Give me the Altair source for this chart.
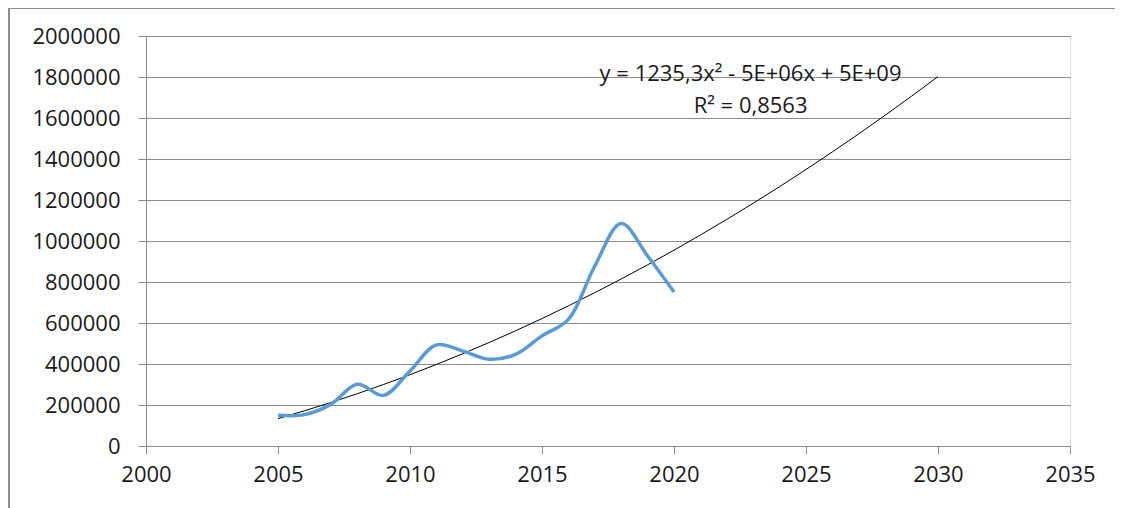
import altair as alt
import pandas as pd

years = [2005, 2006, 2007, 2008, 2009, 2010, 2011, 2012, 2013, 2014, 2015, 2016, 2017, 2018, 2019, 2020]
values = [150000, 153000, 203000, 301000, 247000, 366000, 493000, 463000, 423000, 447000, 537000, 618000, 878000, 1085000, 927000, 751000]
x_ticks = [2000, 2005, 2010, 2015, 2020, 2025, 2030, 2035]
y_ticks = [0, 200000, 400000, 600000, 800000, 1000000, 1200000, 1400000, 1600000, 1800000, 2000000]
eq_lines = ["y = 1235,3x² - 5E+06x + 5E+09", "R² = 0,8563"]
eq_x = [2022.9, 2022.9]
eq_y = [1813000, 1657000]

df = pd.DataFrame({"year": years, "value": values})
eq_df = pd.DataFrame({"text": eq_lines, "x": eq_x, "y": eq_y})

FONT = "Open Sans"
FS = 22

xscale = alt.Scale(domain=[2000, 2035], nice=False, zero=False)
yscale = alt.Scale(domain=[0, 2000000], nice=False)

xaxis = alt.Axis(values=x_ticks, format="d", title=None, grid=False,
                 domainColor="#8c8c8c", tickColor="#8c8c8c", tickSize=8,
                 labelFont=FONT, labelFontSize=FS, labelColor="#1a1a1a",
                 labelPadding=10, labelFlush=False)
yaxis = alt.Axis(values=y_ticks, format="d", title=None, grid=True,
                 gridColor="#8c8c8c", gridWidth=1,
                 domainColor="#8c8c8c", tickColor="#8c8c8c", tickSize=8,
                 labelFont=FONT, labelFontSize=FS, labelColor="#1a1a1a",
                 labelPadding=18)

base = alt.Chart(df)

line = base.mark_line(color="#5B9BD5", strokeWidth=3.5, interpolate="catmull-rom").encode(
    x=alt.X("year:Q", scale=xscale, axis=xaxis),
    y=alt.Y("value:Q", scale=yscale, axis=yaxis),
)

trend = base.transform_regression(
    "year", "value", method="poly", order=2, extent=[2005, 2030]
).mark_line(color="#000000", strokeWidth=1).encode(
    x=alt.X("year:Q", scale=xscale),
    y=alt.Y("value:Q", scale=yscale),
)

eq = alt.Chart(eq_df).mark_text(font=FONT, fontSize=FS, color="#1a1a1a", align="center", baseline="middle").encode(
    x=alt.X("x:Q", scale=xscale),
    y=alt.Y("y:Q", scale=yscale),
    text="text:N",
)

frame_left = alt.Chart(df).mark_rule(color="#8c8c8c", strokeWidth=1).encode(
    x=alt.value(-137), y=alt.value(-28), y2=alt.value(480)
)
frame_top = alt.Chart(df).mark_rule(color="#8c8c8c", strokeWidth=1).encode(
    x=alt.value(-137), x2=alt.value(990), y=alt.value(-28)
)

chart = alt.layer(trend, line, eq, frame_left, frame_top).properties(
    width=924, height=410,
    autosize=alt.AutoSizeParams(type="none"),
    padding={"left": 138, "top": 28, "right": 45, "bottom": 64},
).configure_view(stroke=None).configure(background="white")

chart.save("out.html", embed_options={"renderer": "svg", "actions": False})
